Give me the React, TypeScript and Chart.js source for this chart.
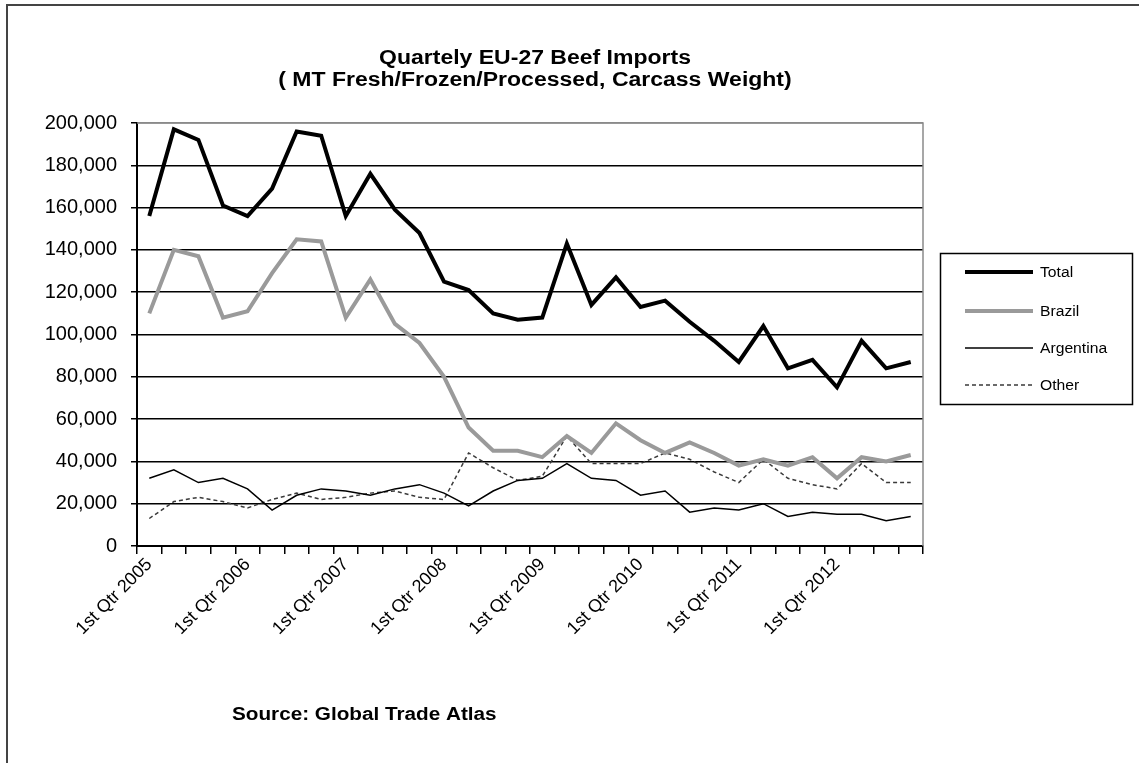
import React, { useEffect, useRef } from "react";
import { Chart, registerables } from "chart.js";

Chart.register(...registerables);

// Quarter categories, 2005 Q1 .. 2012 Q4
const quarterLabels = [
  "1st Qtr 2005", "2nd Qtr 2005", "3rd Qtr 2005", "4th Qtr 2005",
  "1st Qtr 2006", "2nd Qtr 2006", "3rd Qtr 2006", "4th Qtr 2006",
  "1st Qtr 2007", "2nd Qtr 2007", "3rd Qtr 2007", "4th Qtr 2007",
  "1st Qtr 2008", "2nd Qtr 2008", "3rd Qtr 2008", "4th Qtr 2008",
  "1st Qtr 2009", "2nd Qtr 2009", "3rd Qtr 2009", "4th Qtr 2009",
  "1st Qtr 2010", "2nd Qtr 2010", "3rd Qtr 2010", "4th Qtr 2010",
  "1st Qtr 2011", "2nd Qtr 2011", "3rd Qtr 2011", "4th Qtr 2011",
  "1st Qtr 2012", "2nd Qtr 2012", "3rd Qtr 2012", "4th Qtr 2012",
];

// Metric tons, carcass weight equivalent
const totalImports = [
  156000, 197000, 192000, 161000, 156000, 169000, 196000, 194000,
  156000, 176000, 159000, 148000, 125000, 121000, 110000, 107000,
  108000, 143000, 114000, 127000, 113000, 116000, 106000, 97000,
  87000, 104000, 84000, 88000, 75000, 97000, 84000, 87000,
];
const brazilImports = [
  110000, 140000, 137000, 108000, 111000, 129000, 145000, 144000,
  108000, 126000, 105000, 96000, 80000, 56000, 45000, 45000,
  42000, 52000, 44000, 58000, 50000, 44000, 49000, 44000,
  38000, 41000, 38000, 42000, 32000, 42000, 40000, 43000,
];
const argentinaImports = [
  32000, 36000, 30000, 32000, 27000, 17000, 24000, 27000,
  26000, 24000, 27000, 29000, 25000, 19000, 26000, 31000,
  32000, 39000, 32000, 31000, 24000, 26000, 16000, 18000,
  17000, 20000, 14000, 16000, 15000, 15000, 12000, 14000,
];
const otherImports = [
  13000, 21000, 23000, 21000, 18000, 22000, 25000, 22000,
  23000, 25000, 26000, 23000, 22000, 44000, 37000, 31000,
  33000, 52000, 39000, 39000, 39000, 44000, 41000, 35000,
  30000, 41000, 32000, 29000, 27000, 39000, 30000, 30000,
];

const titleLines = [
  "Quartely EU-27 Beef Imports",
  "( MT Fresh/Frozen/Processed, Carcass Weight)",
];
const sourceNote = "Source: Global Trade Atlas";

const FONT = '"Liberation Sans", Arial, sans-serif';
const W = 1139;
const H = 763;

type SeriesStyle = { label: string; color: string; width: number; dash: number[] };
const seriesStyles: SeriesStyle[] = [
  { label: "Total", color: "#000000", width: 4, dash: [] },
  { label: "Brazil", color: "#9a9a9a", width: 4, dash: [] },
  { label: "Argentina", color: "#000000", width: 1.5, dash: [] },
  { label: "Other", color: "#3a3a3a", width: 1.5, dash: [4, 3] },
];
const seriesData = [totalImports, brazilImports, argentinaImports, otherImports];

function wideText(
  ctx: CanvasRenderingContext2D,
  text: string,
  x: number,
  y: number,
  align: CanvasTextAlign,
  sx: number
) {
  ctx.save();
  ctx.translate(x, y);
  ctx.scale(sx, 1);
  ctx.textAlign = align;
  ctx.fillText(text, 0, 0);
  ctx.restore();
}

// Gray plot-area frame (top and right edges) under the series
const plotFrame = {
  id: "plotFrame",
  beforeDatasetsDraw(chart: any) {
    const { ctx, chartArea } = chart;
    ctx.save();
    ctx.strokeStyle = "#8a8a8a";
    ctx.lineWidth = 1.5;
    ctx.beginPath();
    ctx.moveTo(chartArea.left, chartArea.top);
    ctx.lineTo(chartArea.right, chartArea.top);
    ctx.lineTo(chartArea.right, chartArea.bottom);
    ctx.stroke();
    ctx.restore();
  },
};

// Outer frame, title, legend box and source note
const decorations = {
  id: "decorations",
  afterDraw(chart: any) {
    const ctx: CanvasRenderingContext2D = chart.ctx;
    ctx.save();

    ctx.strokeStyle = "#444444";
    ctx.lineWidth = 2;
    ctx.beginPath();
    ctx.moveTo(7, H);
    ctx.lineTo(7, 5);
    ctx.lineTo(W, 5);
    ctx.stroke();

    ctx.fillStyle = "#000";
    ctx.textBaseline = "alphabetic";
    ctx.font = `bold 20px ${FONT}`;
    wideText(ctx, titleLines[0], 535, 64, "center", 1.15);
    wideText(ctx, titleLines[1], 535, 86, "center", 1.15);

    ctx.font = `bold 18px ${FONT}`;
    wideText(ctx, sourceNote, 232, 720, "left", 1.15);

    // legend
    ctx.strokeStyle = "#000";
    ctx.lineWidth = 1.5;
    ctx.strokeRect(940.5, 253.5, 192, 151);
    const rowsY = [272, 311, 348, 385];
    ctx.font = `14px ${FONT}`;
    ctx.textBaseline = "middle";
    seriesStyles.forEach((s, i) => {
      const y = rowsY[i];
      ctx.save();
      ctx.strokeStyle = s.color;
      ctx.lineWidth = s.width;
      ctx.setLineDash(s.dash);
      ctx.beginPath();
      ctx.moveTo(965, y);
      ctx.lineTo(1033, y);
      ctx.stroke();
      ctx.restore();
      ctx.fillStyle = "#000";
      wideText(ctx, s.label, 1040, y + 1, "left", 1.12);
    });

    ctx.restore();
  },
};

export default function App() {
  const canvasRef = useRef<HTMLCanvasElement | null>(null);

  useEffect(() => {
    const canvas = canvasRef.current;
    if (!canvas) return;

    const chart = new Chart(canvas, {
      type: "line",
      data: {
        labels: quarterLabels,
        datasets: seriesStyles.map((s, i) => ({
          label: s.label,
          data: seriesData[i],
          borderColor: s.color,
          backgroundColor: s.color,
          borderWidth: s.width,
          borderDash: s.dash,
          pointRadius: 0,
          tension: 0,
          fill: false,
          borderJoinStyle: "miter" as const,
        })),
      },
      options: {
        animation: false,
        responsive: false,
        devicePixelRatio: 1,
        layout: { padding: { left: 0, top: 123, right: 216, bottom: 0 } },
        plugins: {
          legend: { display: false },
          title: { display: false },
          tooltip: { enabled: false },
        },
        scales: {
          x: {
            type: "category",
            offset: true,
            afterFit: (scale: any) => {
              scale.height = 217;
            },
            grid: {
              display: true,
              drawOnChartArea: false,
              offset: true,
              tickLength: 8,
              color: "#000",
              lineWidth: 1.5,
            },
            border: { color: "#000", width: 2 },
            ticks: {
              autoSkip: false,
              maxRotation: 45,
              minRotation: 45,
              padding: 0,
              color: "#000",
              font: { family: FONT, size: 18 },
              callback: (_v: any, i: number) => (i % 4 === 0 ? quarterLabels[i] : ""),
            },
          },
          y: {
            min: 0,
            max: 200000,
            afterFit: (scale: any) => {
              scale.width = 137;
            },
            grid: {
              color: (c: any) => (c.tick && c.tick.value === 200000 ? "#8a8a8a" : "#000"),
              tickColor: "#000",
              lineWidth: 1.5,
              tickLength: 6,
            },
            border: { color: "#000", width: 2 },
            ticks: {
              stepSize: 20000,
              padding: 14,
              color: "#000",
              font: { family: FONT, size: 20 },
              callback: (v: any) => Number(v).toLocaleString("en-US"),
            },
          },
        },
      },
      plugins: [plotFrame, decorations],
    });

    return () => chart.destroy();
  }, []);

  return (
    <div style={{ position: "fixed", left: 0, top: 0, width: W, height: H, background: "#fff" }}>
      <canvas ref={canvasRef} width={W} height={H} style={{ display: "block" }} />
    </div>
  );
}
